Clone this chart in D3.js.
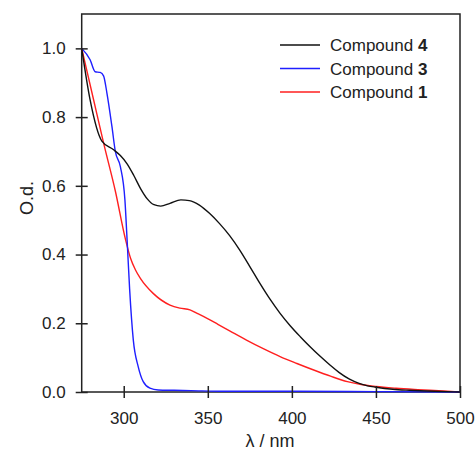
<!DOCTYPE html>
<html>
<head>
<meta charset="utf-8">
<script src="https://cdn.jsdelivr.net/npm/d3@7"></script>
<style>
  body { margin: 0; background: #fff; }
  svg text { font-family: "Liberation Sans", Arial, sans-serif; fill: #222; }
</style>
</head>
<body>
<svg id="chart" width="476" height="455"></svg>
<script>
// wavelength (nm) / optical density
const lambda4 = [275, 280, 287, 294, 298, 302, 306, 310, 314, 318, 322, 327.5, 334, 339, 345, 351, 357, 363, 369, 375, 381, 387, 393, 399, 405, 411, 417, 423, 428, 434, 440, 445, 450, 460, 470, 485, 500];
const od4     = [1.0, 0.85, 0.73, 0.705, 0.688, 0.664, 0.63, 0.592, 0.562, 0.545, 0.541, 0.549, 0.559, 0.557, 0.544, 0.52, 0.49, 0.455, 0.413, 0.365, 0.316, 0.27, 0.229, 0.193, 0.161, 0.131, 0.103, 0.077, 0.057, 0.038, 0.025, 0.018, 0.014, 0.008, 0.005, 0.002, 0.0];

const lambda3 = [275, 280, 283, 286, 288, 290, 293, 295, 298, 300.7, 302, 303.5, 305.7, 308.6, 311.6, 315.6, 320.5, 330, 340, 360, 400, 450, 500];
const od3     = [1.0, 0.967, 0.932, 0.93, 0.92, 0.87, 0.772, 0.7, 0.656, 0.559, 0.443, 0.3, 0.151, 0.074, 0.030, 0.011, 0.006, 0.005, 0.004, 0.002, 0.002, 0.001, 0.0];

const lambda1 = [275, 282, 288, 295, 301, 304, 307, 310, 317.5, 327.5, 333.4, 339.4, 344, 349.3, 356, 363, 373, 383, 393, 403, 413, 423, 433, 442, 450, 462, 475, 490, 500];
const od1     = [1.0, 0.852, 0.725, 0.585, 0.445, 0.39, 0.355, 0.33, 0.287, 0.253, 0.244, 0.239, 0.228, 0.215, 0.197, 0.178, 0.151, 0.126, 0.103, 0.083, 0.064, 0.046, 0.030, 0.021, 0.016, 0.011, 0.007, 0.003, 0.0];

const seriesNames = ["4", "3", "1"];
const seriesColors = ["#111111", "#1f1fff", "#ff1f1f"];
const xTicks = [300, 350, 400, 450, 500];
const yTicks = [0.0, 0.2, 0.4, 0.6, 0.8, 1.0];

const series = [
  { name: seriesNames[0], color: seriesColors[0], pts: lambda4.map((l, i) => [l, od4[i]]) },
  { name: seriesNames[1], color: seriesColors[1], pts: lambda3.map((l, i) => [l, od3[i]]) },
  { name: seriesNames[2], color: seriesColors[2], pts: lambda1.map((l, i) => [l, od1[i]]) }
];

const svg = d3.select("#chart");
const plotL = 81.7, plotR = 460, plotT = 14, plotB = 392;

const x = d3.scaleLinear().domain([275, 500]).range([plotL, plotR]);
const y = d3.scaleLinear().domain([0, 1.1]).range([plotB, plotT]);

// frame
svg.append("rect")
  .attr("x", plotL).attr("y", plotT)
  .attr("width", plotR - plotL).attr("height", plotB - plotT)
  .attr("fill", "none").attr("stroke", "#222").attr("stroke-width", 1.5);

// curves
const line = d3.line()
  .x(d => x(d[0]))
  .y(d => y(d[1]))
  .curve(d3.curveMonotoneX);

svg.append("g")
  .selectAll("path")
  .data(series.slice().reverse())
  .enter()
  .append("path")
  .attr("d", d => line(d.pts))
  .attr("fill", "none")
  .attr("stroke", d => d.color)
  .attr("stroke-width", 1.4);

// axes, ticks crossing the axis line
const xAxis = svg.append("g")
  .attr("transform", `translate(0,${plotB})`)
  .call(d3.axisBottom(x).tickValues(xTicks).tickSize(6).tickPadding(14).tickFormat(d3.format("d")));
xAxis.selectAll(".tick line").attr("y1", -6).attr("y2", 6);

const yAxis = svg.append("g")
  .attr("transform", `translate(${plotL},0)`)
  .call(d3.axisLeft(y).tickValues(yTicks).tickSize(6).tickPadding(10).tickFormat(d3.format(".1f")));
yAxis.selectAll(".tick line").attr("x1", -6).attr("x2", 6);

[xAxis, yAxis].forEach(g => {
  g.select(".domain").remove();
  g.selectAll(".tick line").attr("stroke", "#222").attr("stroke-width", 1.5);
  g.selectAll("text").attr("font-size", 17).attr("fill", "#222")
    .style("font-family", "'Liberation Sans', Arial, sans-serif");
});

// axis titles
svg.append("text")
  .attr("x", 270).attr("y", 447)
  .attr("text-anchor", "middle")
  .attr("font-size", 18)
  .text("λ / nm");

svg.append("text")
  .attr("transform", "translate(33,198) rotate(-90)")
  .attr("text-anchor", "middle")
  .attr("font-size", 18)
  .text("O.d.");

// legend
const legend = svg.append("g");
series.forEach((s, i) => {
  const ly = 45 + i * 23.5;
  legend.append("line")
    .attr("x1", 280).attr("x2", 320)
    .attr("y1", ly).attr("y2", ly)
    .attr("stroke", s.color).attr("stroke-width", 1.4);
  const t = legend.append("text")
    .attr("x", 330).attr("y", ly + 6)
    .attr("font-size", 17);
  t.append("tspan").text("Compound ");
  t.append("tspan").attr("font-weight", "bold").text(s.name);
});
</script>
</body>
</html>
